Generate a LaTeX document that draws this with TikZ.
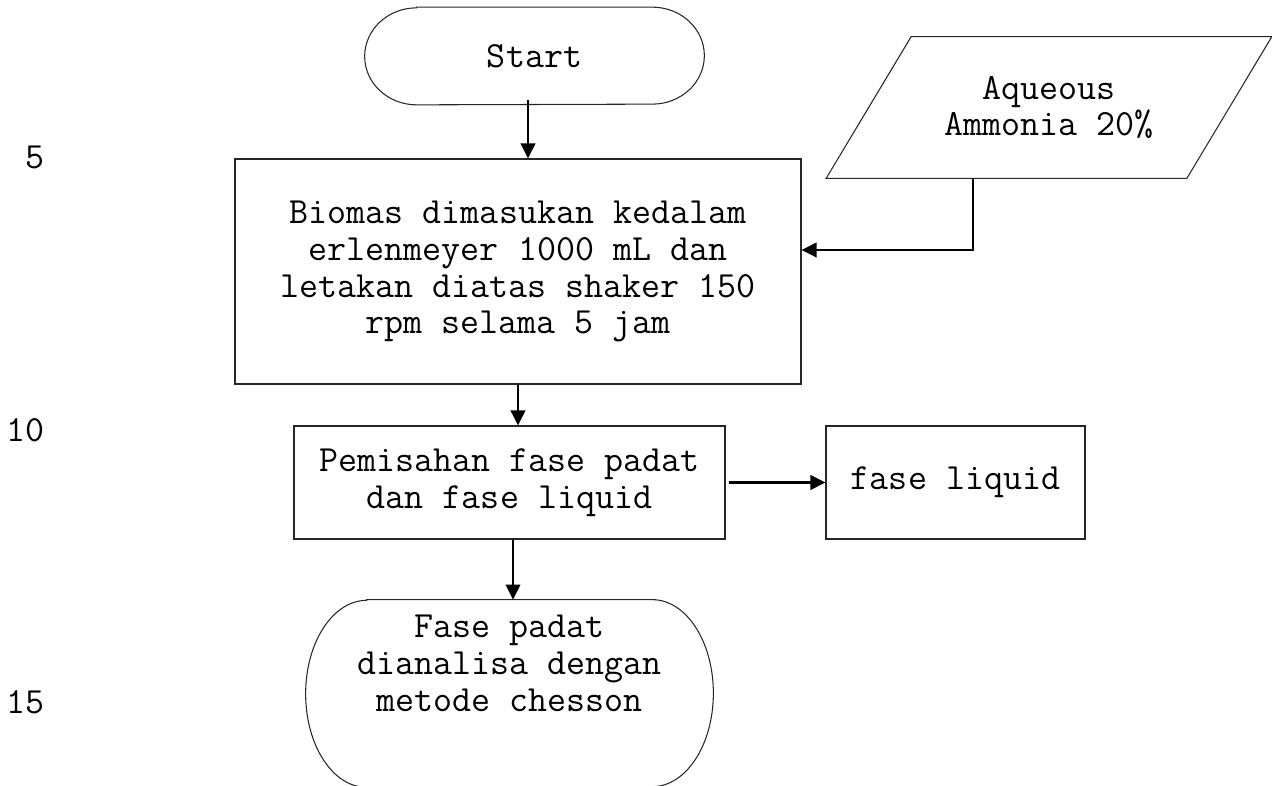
\documentclass[tikz,border=0pt]{standalone}
\usetikzlibrary{arrows.meta}

% rounded start/stop outline with elliptic ends
\newcommand{\termshape}[3]{%
\draw[outline] ([xshift=#2]#1.north west) -- ([xshift=-#2]#1.north east)
  arc[start angle=90, end angle=-90, x radius=#2, y radius=#3]
  -- ([xshift=#2]#1.south west)
  arc[start angle=270, end angle=90, x radius=#2, y radius=#3] -- cycle;}
% slanted input box
\newcommand{\ioshape}[2]{%
\draw[outline] ([xshift=#2]#1.north west) -- ([xshift=#2]#1.north east)
  -- ([xshift=-#2]#1.south east) -- ([xshift=-#2]#1.south west) -- cycle;}

\tikzset{
  every node/.style={font={\fontsize{21}{21}\ttfamily}, align=center},
  outline/.style={draw=black!85, line width=0.6pt},
  terminal/.style={inner sep=0pt},
  process/.style={outline, inner sep=0pt},
  io/.style={inner sep=0pt},
  flow/.style={-{Triangle[length=0.3cm,width=0.29cm]}, line width=1.2pt},
  lineno/.style={anchor=east, inner sep=0pt}
}

\begin{document}
\begin{tikzpicture}
\useasboundingbox (0,0) rectangle (25.44,15.70);
\clip (0,0) rectangle (25.44,15.70);

% line numbers in the margin
\node [lineno] (n5) at (0.9,12.56) {5};
\node [lineno] (n10) at (0.9,7.09) {10};
\node [lineno] (n15) at (0.9,1.66) {15};

% flow chart
\node [terminal, minimum width=6.78cm, minimum height=1.94cm] (start) at (10.69,14.58) {Start};
\termshape{start}{1.04cm}{0.97cm}
\node [io, minimum width=7.2cm, minimum height=2.82cm] (ammonia) at (20.98,13.55) {Aqueous\\Ammonia 20\%};
\ioshape{ammonia}{0.85cm}
\node [process, minimum width=11.32cm, minimum height=4.5cm] (biomas) at (10.36,10.27)
  {Biomas dimasukan kedalam\\erlenmeyer 1000 mL dan\\letakan diatas shaker 150\\rpm selama 5 jam};
\node [process, minimum width=8.62cm, minimum height=2.26cm] (sep) at (10.19,6.05)
  {Pemisahan fase padat\\dan fase liquid};
\node [process, minimum width=5.18cm, minimum height=2.26cm] (liquid) at (19.11,6.05) {fase liquid};
\node [terminal, minimum width=8.14cm, minimum height=3.74cm,
  label={[yshift=0.6cm]center:Fase padat\\dianalisa dengan\\metode chesson}] (finish) at (10.19,1.83) {};
\termshape{finish}{1.22cm}{1.87cm}

% arrows
\draw [flow] ([xshift=-0.13cm,yshift=0.1cm]start.south) -- ([xshift=-0.13cm]start.south |- biomas.north);
\draw [flow] ([xshift=-1.52cm]ammonia.south) |- ([yshift=0.43cm]biomas.east);
\draw [flow] (biomas.south) -- (biomas.south |- sep.north);
\draw [flow, shorten <=0.06cm] (sep.east) -- (liquid.west);
\draw [flow] ([xshift=0.07cm]sep.south) -- ([xshift=0.07cm]finish.north);
\end{tikzpicture}
\end{document}
